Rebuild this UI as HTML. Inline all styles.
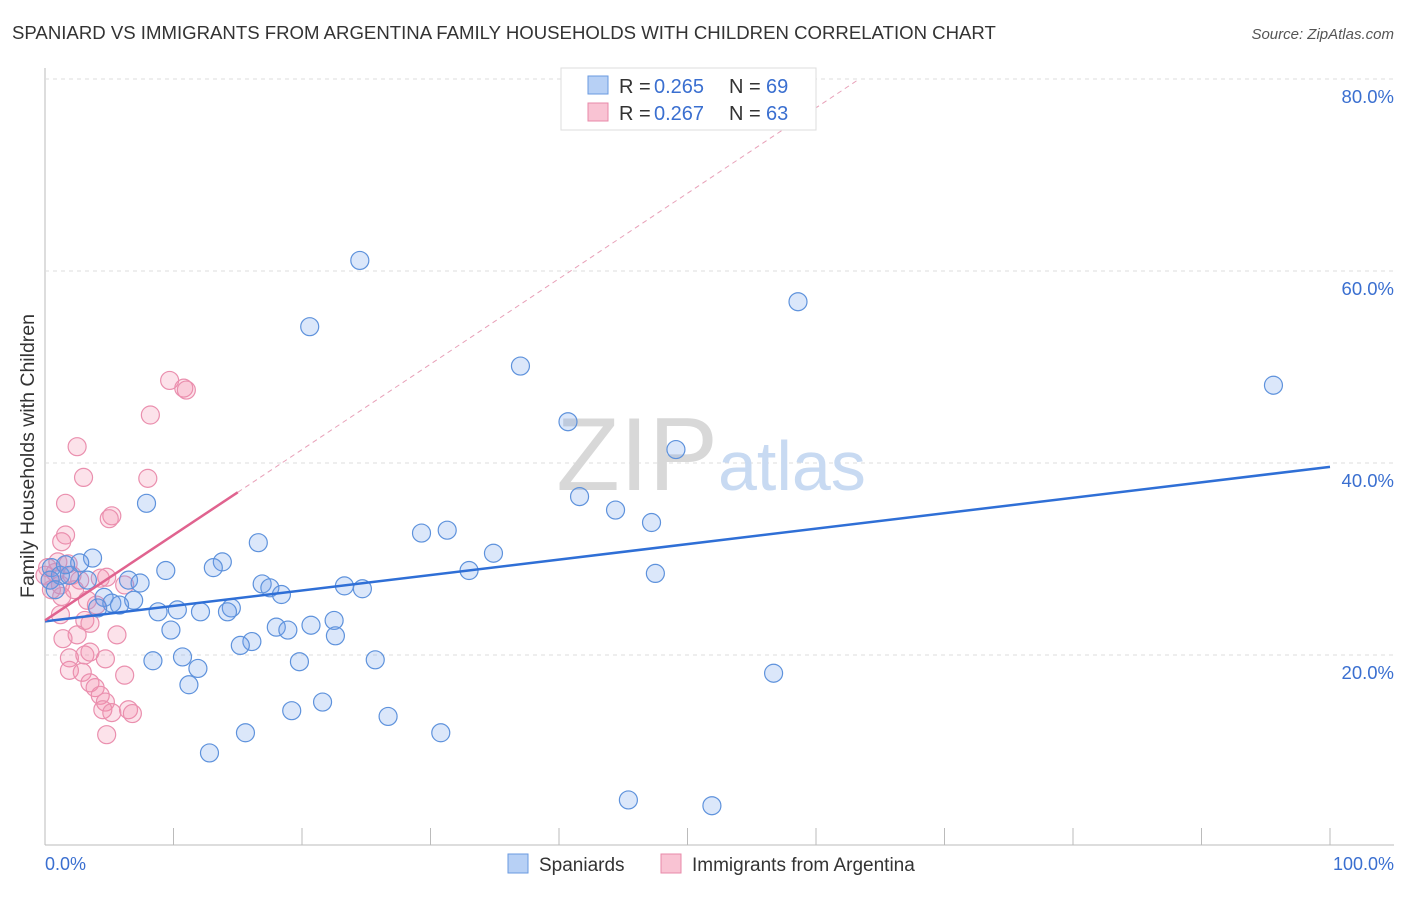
<!DOCTYPE html>
<html><head><meta charset="utf-8"><style>
body{margin:0;background:#fff;font-family:"Liberation Sans",sans-serif}
svg text{font-family:"Liberation Sans",sans-serif}
</style></head><body>
<svg width="1406" height="892" viewBox="0 0 1406 892">
<text x="12" y="39" font-size="18.6" fill="#333">SPANIARD VS IMMIGRANTS FROM ARGENTINA FAMILY HOUSEHOLDS WITH CHILDREN CORRELATION CHART</text>
<text x="1394" y="39" font-size="15" fill="#555" font-style="italic" text-anchor="end">Source: ZipAtlas.com</text>
<g id="grid"></g>
<text x="718" y="490" font-size="104" font-family="Liberation Serif" fill="#d8d8d8" text-anchor="end">ZIP</text>
<text x="718" y="490" font-size="70" fill="#c8daf2">atlas</text>
<g id="points"></g>
<g id="trends"></g>
<text x="34" y="456" font-size="19.5" fill="#333" text-anchor="middle" transform="rotate(-90 34 456)">Family Households with Children</text>
<text x="45" y="870" font-size="18" fill="#3a6fd0">0.0%</text>
<text x="1394" y="870" font-size="18" fill="#3a6fd0" text-anchor="end">100.0%</text>
<g>
<rect x="561" y="68" width="255" height="62" fill="#fff" stroke="#ddd"/>
<rect x="588" y="76" width="20" height="18" fill="#b7d0f5" stroke="#6a9ae0"/>
<rect x="588" y="103" width="20" height="18" fill="#f9c3d3" stroke="#e88aa8"/>
<text x="619" y="93" font-size="20" fill="#333">R =</text>
<text x="654" y="93" font-size="20" fill="#3a6fd0">0.265</text>
<text x="729" y="93" font-size="20" fill="#333">N =</text>
<text x="766" y="93" font-size="20" fill="#3a6fd0">69</text>
<text x="619" y="120" font-size="20" fill="#333">R =</text>
<text x="654" y="120" font-size="20" fill="#3a6fd0">0.267</text>
<text x="729" y="120" font-size="20" fill="#333">N =</text>
<text x="766" y="120" font-size="20" fill="#3a6fd0">63</text>
</g>
<g>
<rect x="508" y="854" width="20" height="19" fill="#b7d0f5" stroke="#6a9ae0"/>
<text x="539" y="871" font-size="19" fill="#333">Spaniards</text>
<rect x="661" y="854" width="20" height="19" fill="#f9c3d3" stroke="#e88aa8"/>
<text x="692" y="871" font-size="19" fill="#333">Immigrants from Argentina</text>
</g>
</svg>
<script>
const yTicks=[20,40,60,80];
const yTickLabels=["20.0%","40.0%","60.0%","80.0%"];
const xTicks=[0,10,20,30,40,50,60,70,80,90,100];
const blueX=[24.5,20.6,58.6,37.0,95.6,40.7,49.1,7.9,41.6,44.4,47.2,31.3,29.3,16.6,34.9,3.7,2.7,13.8,13.1,9.4,33.0,47.5,0.5,1.2,3.3,6.5,7.4,16.9,17.5,23.3,24.7,18.4,4.6,6.9,5.2,5.8,4.1,14.5,8.8,10.3,12.1,14.2,22.5,20.7,18.0,18.9,9.8,22.6,16.1,15.2,10.7,8.4,19.8,25.7,11.9,56.7,11.2,21.6,19.2,26.7,15.6,30.8,12.8,45.4,51.9,0.4,0.8,1.9,1.6];
const blueY=[61.1,54.2,56.8,50.1,48.1,44.3,41.4,35.8,36.5,35.1,33.8,33.0,32.7,31.7,30.6,30.1,29.6,29.7,29.1,28.8,28.8,28.5,29.1,28.3,27.8,27.8,27.5,27.4,27.0,27.2,26.9,26.3,26.0,25.7,25.4,25.2,24.9,24.9,24.5,24.7,24.5,24.5,23.6,23.1,22.9,22.6,22.6,22.0,21.4,21.0,19.8,19.4,19.3,19.5,18.6,18.1,16.9,15.1,14.2,13.6,11.9,11.9,9.8,4.9,4.3,27.8,26.8,28.3,29.4];
const pinkX=[9.7,10.8,11.0,8.2,2.5,3.0,8.0,1.6,5.2,5.0,1.6,1.3,1.0,1.8,0.8,0.4,1.2,2.1,2.7,0.5,1.3,2.3,4.3,4.8,6.2,4.0,3.3,1.2,3.1,3.5,2.5,1.4,5.6,1.9,3.1,3.5,4.7,1.9,2.9,6.2,3.5,3.9,4.3,4.7,4.5,6.5,6.8,5.2,4.8,0,0.2];
const pinkY=[48.6,47.8,47.6,45.0,41.7,38.5,38.4,35.8,34.5,34.2,32.5,31.8,29.7,29.5,28.6,27.8,27.3,28.3,27.8,26.8,26.1,26.8,28.0,28.1,27.3,25.2,25.7,24.2,23.6,23.3,22.1,21.7,22.1,19.7,20.0,20.3,19.6,18.4,18.2,17.9,17.1,16.6,15.8,15.1,14.3,14.3,13.9,14.0,11.7,28.3,29.1];
const blueTrend=[23.5,39.6];   // y at x=0 and x=100
const pinkTrend=[23.6,0.89];   // intercept, slope
const pinkSolidEnd=15;
const NS="http://www.w3.org/2000/svg";
const X=v=>45+v*12.85, Y=v=>847-v*9.6;
function mk(t,a,p){const e=document.createElementNS(NS,t);for(const k in a)e.setAttribute(k,a[k]);p.appendChild(e);return e;}
const g=document.getElementById('grid');
const ax=mk('line',{x1:45,y1:68,x2:45,y2:845,stroke:'#bbb'},g);


const bx=mk('line',{x1:45,y1:845,x2:1394,y2:845,stroke:'#bbb'},g);


yTicks.forEach((t,i)=>{
 const l=mk('line',{x1:45,x2:1394,y1:Y(t),y2:Y(t),stroke:'#ddd','stroke-dasharray':'4,4'},g);
 
 
 const tx=mk('text',{x:1394,y:Y(t)+24,'font-size':18.5,fill:'#3a6fd0','text-anchor':'end'},g);
 tx.textContent=yTickLabels[i];
 
 
});
xTicks.forEach(t=>{
 const l=mk('line',{x1:X(t),x2:X(t),y1:828,y2:845,stroke:'#bbb'},g);
 
 
});
const pg=document.getElementById('points');
pinkX.forEach((v,i)=>{
 const c=mk('circle',{cx:X(v),cy:Y(pinkY[i]),r:9,fill:'rgba(242,140,170,0.25)',stroke:'#ea8fae','stroke-width':1.2},pg);
 
 
});
blueX.forEach((v,i)=>{
 const c=mk('circle',{cx:X(v),cy:Y(blueY[i]),r:9,fill:'rgba(110,160,235,0.25)',stroke:'#5e92dc','stroke-width':1.2},pg);
 
 
});
const tg=document.getElementById('trends');
const bt=mk('line',{x1:X(0),y1:Y(blueTrend[0]),x2:X(100),y2:Y(blueTrend[1]),stroke:'#2f6fd6','stroke-width':2.5},tg);


const xe=(80-pinkTrend[0])/pinkTrend[1];
const pd=mk('line',{x1:X(pinkSolidEnd),y1:Y(pinkTrend[0]+pinkTrend[1]*pinkSolidEnd),x2:X(xe),y2:Y(80),stroke:'#e8a0b8','stroke-width':1,'stroke-dasharray':'5,4'},tg);


const pt=mk('line',{x1:X(0),y1:Y(pinkTrend[0]),x2:X(pinkSolidEnd),y2:Y(pinkTrend[0]+pinkTrend[1]*pinkSolidEnd),stroke:'#e0638f','stroke-width':2.5},tg);


</script>
</body></html>
